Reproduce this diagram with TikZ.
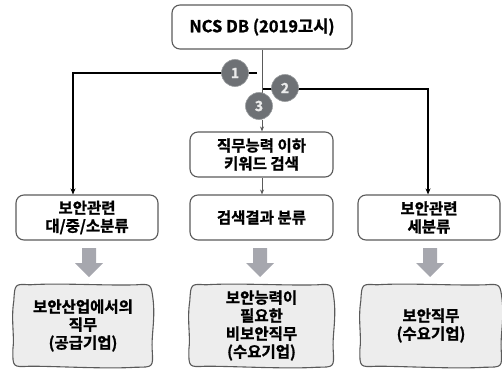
\documentclass[tikz,border=0pt]{standalone}
\usepackage{fontspec}
\setmainfont{Noto Sans CJK KR Bold}[FakeBold=1.2]
\usetikzlibrary{arrows.meta}
\definecolor{boxline}{HTML}{5A5A5A}
\definecolor{boxfill}{HTML}{EDEDED}
\definecolor{circfill}{HTML}{6E7175}
\definecolor{blockc}{HTML}{A6A7AE}
\tikzset{
  box/.style={draw=boxline, line width=1.1pt, rounded corners=8pt, align=center, inner sep=0pt, font=\fontsize{15.5}{18}\selectfont},
  wob/.style={align=center, inner sep=0pt, font=\fontsize{15.5}{18}\selectfont},
  num/.style={circle, fill=circfill, draw=circfill!70!white, line width=0.6pt, minimum size=27pt, inner sep=0pt, text=white!92!black, font=\fontsize{14}{14}\selectfont},
  conn/.style={line width=1.3pt, -{Stealth[length=6pt,width=5pt]}},
  thin/.style={line width=0.9pt, draw=boxline, -{Stealth[length=5pt,width=4pt]}},
  blockarrow/.style={fill=blockc}
}
\newcommand{\wobdraw}[1]{%
  \filldraw[fill=boxfill, draw=boxline, line width=1.1pt]
    ([xshift=16pt]#1.north west)
    .. controls ([xshift=45pt,yshift=2pt]#1.north west) and ([xshift=-45pt,yshift=-1pt]#1.north east) .. ([xshift=-16pt]#1.north east)
    .. controls ([xshift=-1pt,yshift=1pt]#1.north east) .. ([yshift=-16pt,xshift=1pt]#1.north east)
    .. controls ([xshift=3pt,yshift=-35pt]#1.north east) and ([xshift=-1pt,yshift=30pt]#1.south east) .. ([yshift=16pt]#1.south east)
    .. controls ([xshift=1pt,yshift=-1pt]#1.south east) .. ([xshift=-16pt,yshift=-1pt]#1.south east)
    .. controls ([xshift=-45pt,yshift=-3pt]#1.south east) and ([xshift=45pt,yshift=0pt]#1.south west) .. ([xshift=16pt]#1.south west)
    .. controls ([xshift=-1pt,yshift=-1pt]#1.south west) .. ([yshift=16pt,xshift=-1pt]#1.south west)
    .. controls ([xshift=1pt,yshift=30pt]#1.south west) and ([xshift=-3pt,yshift=-35pt]#1.north west) .. ([yshift=-16pt]#1.north west)
    .. controls ([xshift=1pt,yshift=1pt]#1.north west) .. cycle;}
\newcommand{\blockarr}[1]{%
  \fill[blockarrow] (#1) ++(-7,0) -- ++(14,0) -- ++(0,15) -- ++(7,0) -- ++(-14,14) -- ++(-14,-14) -- ++(7,0) -- cycle;}
\begin{document}
\begin{tikzpicture}[x=1pt,y=-1pt]
\useasboundingbox (0,0) rectangle (502,369);
% top
\node[box, minimum width=180pt, minimum height=44pt] (db) at (262,27) {\fontsize{16.5}{18}\selectfont NCS DB (2019고시)};
% middle column
\node[box, minimum width=143pt, minimum height=45pt] (kw) at (261.5,154.5) {직무능력 이하\\키워드 검색};
\node[box, minimum width=143pt, minimum height=45pt] (mid) at (261.5,217.5) {검색결과 분류};
\node[box, minimum width=142pt, minimum height=45pt] (lb) at (87,217.5) {보안관련\\대/중/소분류};
\node[box, minimum width=142pt, minimum height=45pt] (rb) at (429,217.5) {보안관련\\세분류};
% bottom
\node[wob, minimum width=138pt, minimum height=81pt] (lo) at (83,325.5) {};
\node[wob, minimum width=143pt, minimum height=81pt] (mo) at (261.5,325.5) {};
\node[wob, minimum width=140pt, minimum height=81pt] (ro) at (431,325.5) {};
\wobdraw{lo}\wobdraw{mo}\wobdraw{ro}
\node[wob] (lot) at (lo) {보안산업에서의\\직무\\(공급기업)};
\node[wob] (mot) at (mo) {보안능력이\\필요한\\비보안직무\\(수요기업)};
\node[wob] (rot) at (ro) {보안직무\\(수요기업)};
% block arrows
\coordinate (ba1) at (89,248);
\coordinate (ba2) at (260,248);
\coordinate (ba3) at (430,248);
\blockarr{ba1}\blockarr{ba2}\blockarr{ba3}
% connectors
\coordinate (ls) at (257,73);
\coordinate (lx) at (73,73);
\coordinate (rs) at (262,89);
\coordinate (rx) at (428,89);
\draw[conn] (ls) -- (lx) -- (lx |- lb.north);
\draw[conn] (rs) -- (rx) -- (rx |- rb.north);
\draw[line width=0.9pt, draw=boxline] (db.south -| 262,0) -- (262,100);
\node[num] (c1) at (235,73) {1};
\node[num] (c2) at (285,88) {2};
\node[num] (c3) at (259,106) {3};
\draw[thin] (c3.south -| 262,0) -- (kw.north -| 262,0);
\draw[thin] (kw.south -| 262,0) -- (mid.north -| 262,0);
\end{tikzpicture}
\end{document}
